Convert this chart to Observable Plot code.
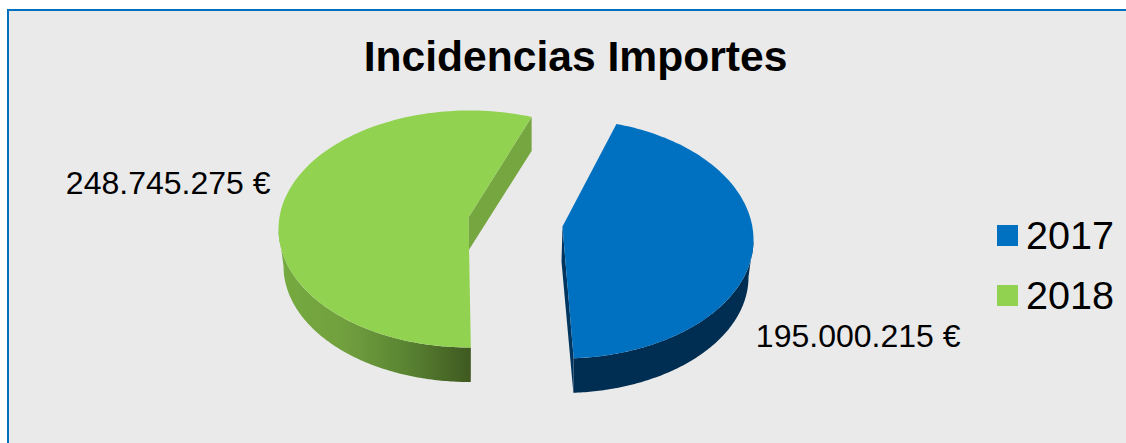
<!DOCTYPE html>
<html lang="es">
<head>
<meta charset="utf-8">
<script src="https://cdn.jsdelivr.net/npm/d3@7"></script>
<script src="https://cdn.jsdelivr.net/npm/@observablehq/plot@0.6"></script>
<style>
  html, body { margin: 0; padding: 0; background: #fff; overflow: hidden; }
  #page { position: relative; width: 1126px; height: 443px; font-family: "Liberation Sans", Arial, sans-serif; color: #000; }
  #frame { position: absolute; left: 7px; top: 9px; right: 0; bottom: 0; background: #eaeaea; border-left: 2px solid #0070c0; border-top: 2px solid #0070c0; }
  #page figure { margin: 0; }
  #chart { position: absolute; left: 0; top: 0; }
  #title { position: absolute; left: 0; width: 1151px; top: 33px; margin: 0; text-align: center; font-size: 42.6px; line-height: 46px; font-weight: bold; }
  #legend { position: absolute; left: 997px; top: 212px; }
  .item { position: relative; height: 60px; width: 125px; }
  .swatch { position: absolute; left: 0; top: 13px; width: 21px; height: 21px; }
  .lab { position: absolute; left: 29px; top: 1px; font-size: 39.6px; line-height: 44px; }
</style>
</head>
<body>
<div id="page">
  <div id="frame"></div>
  <div id="chart"></div>
  <h1 id="title"></h1>
  <div id="legend"></div>
</div>
<script>
const titleText = "Incidencias Importes";
const years = ["2017", "2018"];
const amounts = [195000215, 248745275];
const amountLabels = ["195.000.215 €", "248.745.275 €"];
const topColors = ["#0070c0", "#92d251"];

// Drawing layout of each exploded slice (pixels of the picture)
const startAngle = [16.4, 179.6];        // clockwise from 12 o'clock
const sweepStretch = [1.013, 0.988];     // perspective effect on the apparent sweep
const centerX = [562, 469];
const centerY = [239.5, 228.5];
const apexX = [562, 468];
const apexY = [226, 217];
const radiusX = 191, radiusY = 118.5;
const backRadiusY = [121, 118.5];
const baseRadiusX = 186, baseRadiusY = 116, baseDrop = 37;
const labelX = [960, 270];
const labelY = [339, 186];

const total = d3.sum(amounts);
const rad = d => d * Math.PI / 180;

function slice(i) {
  const a0 = startAngle[i];
  const a1 = a0 + amounts[i] / total * 360 * sweepStretch[i];
  return {i, a0, a1};
}
const topPt = (i, a) => {
  const c = Math.cos(rad(a));
  return {
    px: centerX[i] + radiusX * Math.sin(rad(a)),
    py: centerY[i] - (c > 0 ? backRadiusY[i] : radiusY) * c
  };
};
const basePt = (i, a) => ({
  px: centerX[i] + baseRadiusX * Math.sin(rad(a)),
  py: centerY[i] + baseDrop - baseRadiusY * Math.cos(rad(a))
});
const arc = (i, a0, a1, f) => d3.range(0, 121).map(k => f(i, a0 + (a1 - a0) * k / 120));

const topFaces = [], walls = [];
years.forEach((year, i) => {
  const s = slice(i);
  topFaces.push(...[{px: apexX[i], py: apexY[i]}, ...arc(i, s.a0, s.a1, topPt)].map(p => ({...p, year})));
  const w0 = Math.max(s.a0, 90), w1 = Math.min(s.a1, 270);
  walls.push(...[...arc(i, w0, w1, topPt), ...arc(i, w0, w1, basePt).reverse()].map(p => ({...p, year})));
});
// cut faces seen from outside: the front edge of 2017 and the back edge of 2018
const s0 = slice(0), s1 = slice(1);
const e0 = topPt(0, s0.a1), b0 = basePt(0, s0.a1);
const e1 = topPt(1, s1.a1);
const blueCut = [
  {px: apexX[0], py: apexY[0]}, e0, b0, {px: apexX[0] - 1, py: apexY[0] + 35}
];
const greenCut = [
  {px: apexX[1], py: apexY[1]}, e1, {px: e1.px, py: e1.py + 34}, {px: apexX[1], py: apexY[1] + 33}
];

const gradient = () => {
  const defs = d3.create("svg:defs");
  const g = defs.append("linearGradient").attr("id", "greenWall").attr("x1", 0).attr("x2", 1).attr("y1", 0).attr("y2", 0);
  [[0, "#76ab40"], [0.35, "#719f3e"], [0.65, "#5b8533"], [1, "#3f5920"]].forEach(([o, c]) =>
    g.append("stop").attr("offset", o).attr("stop-color", c));
  return defs.node();
};

const plot = Plot.plot({
  width: 1126, height: 443,
  margin: 0,
  x: {domain: [0, 1126], range: [0, 1126], axis: null},
  y: {domain: [0, 443], range: [0, 443], axis: null},
  color: {domain: years, range: topColors},
  style: {background: "transparent", overflow: "visible"},
  marks: [
    gradient,
    Plot.line(walls.filter(d => d.year === "2017"), {x: "px", y: "py", fill: "#002d52", stroke: "none"}),
    Plot.line(blueCut, {x: "px", y: "py", fill: "#00355f", stroke: "none"}),
    Plot.line(walls.filter(d => d.year === "2018"), {x: "px", y: "py", fill: "url(#greenWall)", stroke: "none"}),
    Plot.line(greenCut, {x: "px", y: "py", fill: "#75a640", stroke: "none"}),
    Plot.line(topFaces, {x: "px", y: "py", z: "year", fill: "year", stroke: "none"}),
    Plot.text(years.map((year, i) => i), {
      x: i => labelX[i], y: i => labelY[i], text: i => amountLabels[i],
      textAnchor: "end", lineAnchor: "bottom", dy: 7, fontSize: 32, fill: "#000",
      fontFamily: "Liberation Sans, Arial, sans-serif"
    })
  ]
});
document.getElementById("chart").appendChild(plot);
document.getElementById("title").textContent = titleText;

const color = plot.scale("color");
const legend = d3.select("#legend");
years.forEach(y => {
  const it = legend.append("div").attr("class", "item");
  it.append("div").attr("class", "swatch").style("background", color.apply(y));
  it.append("div").attr("class", "lab").text(y);
});
</script>
</body>
</html>
